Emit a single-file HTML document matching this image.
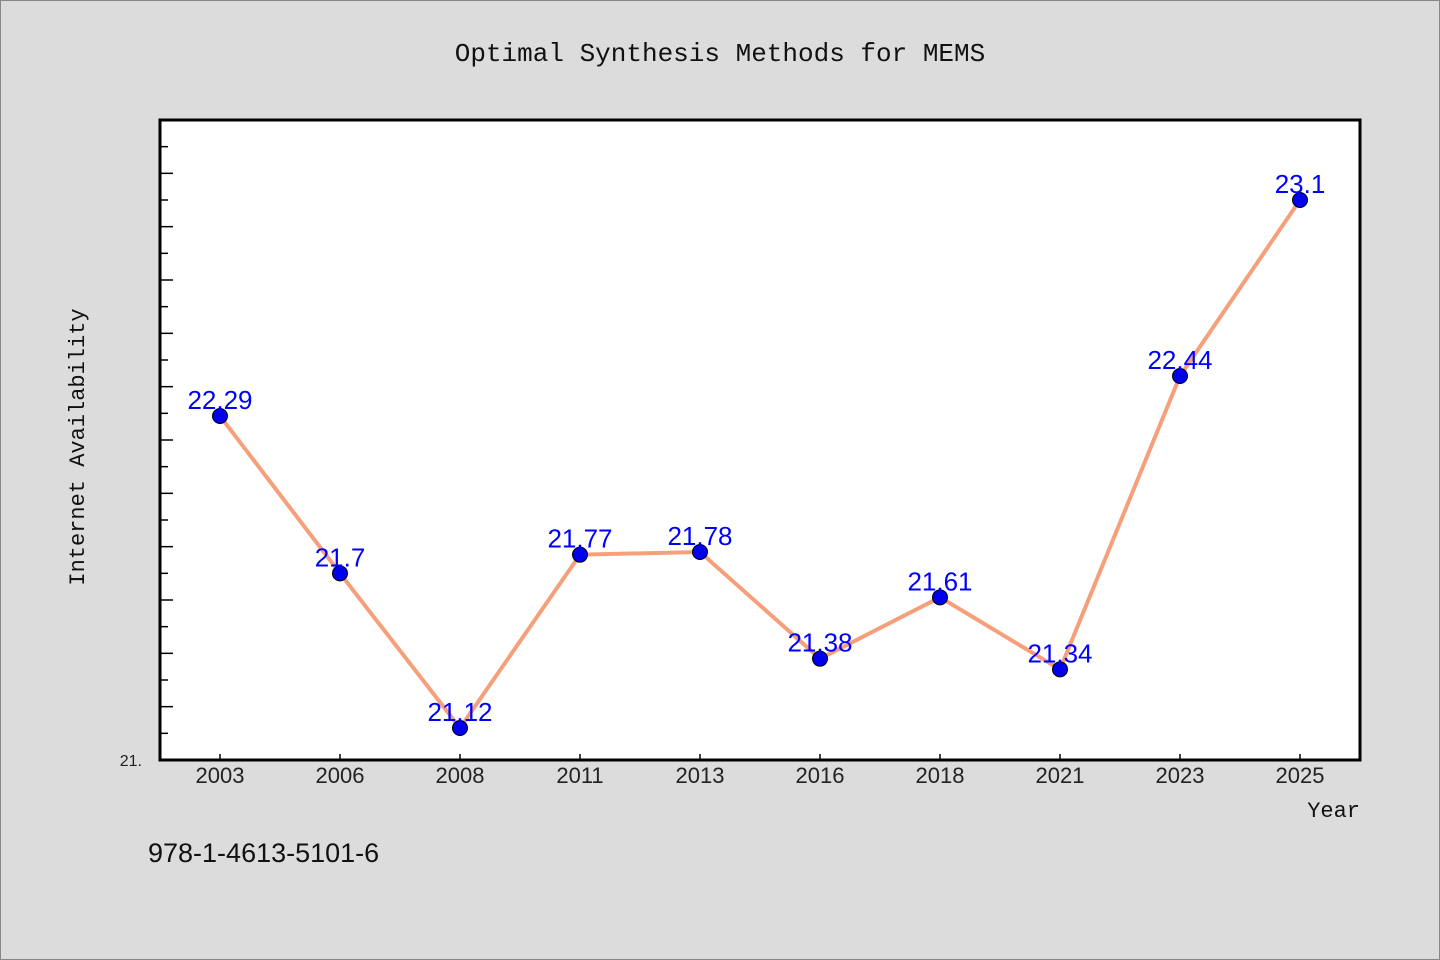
<!DOCTYPE html>
<html><head><meta charset="utf-8"><style>
body{margin:0;background:#dcdcdc;}
svg{display:block;font-family:"Liberation Mono","Noto Sans CJK SC",monospace;}
</style></head><body>
<svg id="c" width="1440" height="960">
<rect x="0.5" y="0.5" width="1439" height="959" fill="#dcdcdc" stroke="#888"/>
<text x="720" y="61" text-anchor="middle" font-size="26" fill="#111">Optimal Synthesis Methods for MEMS</text>
<rect x="160" y="120" width="1200" height="640" fill="#fff"/>
<g id="ticks"></g>
<g id="series"></g>
<rect x="160" y="120" width="1200" height="640" fill="none" stroke="#000" stroke-width="3"/>
<text x="142" y="766" text-anchor="end" font-size="16" font-family="Liberation Sans, sans-serif" fill="#222">21.</text>
<text transform="translate(84,447) rotate(-90)" text-anchor="middle" font-size="22" fill="#111">Internet Availability</text>
<text x="1360" y="817" text-anchor="end" font-size="22" fill="#111">Year</text>
<text x="148" y="862" font-size="27" font-family="Liberation Sans, sans-serif" fill="#111">978-1-4613-5101-6</text>
</svg>
<script>
const categories=["2003","2006","2008","2011","2013","2016","2018","2021","2023","2025"];
const values=[22.29,21.7,21.12,21.77,21.78,21.38,21.61,21.34,22.44,23.1];
const labels=["22.29","21.7","21.12","21.77","21.78","21.38","21.61","21.34","22.44","23.1"];
const yMin=21,yMax=23.4;
const NS="http://www.w3.org/2000/svg";
const X0=160,X1=1360,Y0=760,Y1=120;
function xs(i){return X0+(X1-X0)*(i+0.5)/categories.length;}
function ys(v){return Y0-(v-yMin)/(yMax-yMin)*(Y0-Y1);}
function mk(t,a,p){const e=document.createElementNS(NS,t);for(const k in a)e.setAttribute(k,a[k]);p.appendChild(e);return e;}
const tg=document.getElementById('ticks'),sg=document.getElementById('series');
for(let k=1;k<(yMax-yMin)*10;k++){const y=ys(yMin+k/10);
const l=mk('line',{x1:X0,x2:X0+(k%2==0?13:8),y1:y,y2:y,stroke:'#000','stroke-width':1.5},tg);

}
categories.forEach((c,i)=>{const x=xs(i);
const l=mk('line',{x1:x,x2:x,y1:Y0,y2:Y0-6,stroke:'#000','stroke-width':1.5},tg);


const t=mk('text',{x:x,y:783,'text-anchor':'middle','font-size':22,'font-family':'Liberation Sans, sans-serif',fill:'#222'},tg);
t.textContent=c;

});
const pl=mk('polyline',{points:values.map((v,i)=>xs(i)+','+ys(v)).join(' '),fill:'none',stroke:'#f5a07a','stroke-width':4},sg);


values.forEach((v,i)=>{
const c=mk('circle',{cx:xs(i),cy:ys(v),r:7.5,fill:'#0000ee',stroke:'#000','stroke-width':1},sg);


const t=mk('text',{x:xs(i),y:ys(v)-7,'text-anchor':'middle','font-size':26,'font-family':'Liberation Sans, sans-serif',fill:'#0000ff'},sg);
t.textContent=labels[i];

});
</script>
</body></html>
